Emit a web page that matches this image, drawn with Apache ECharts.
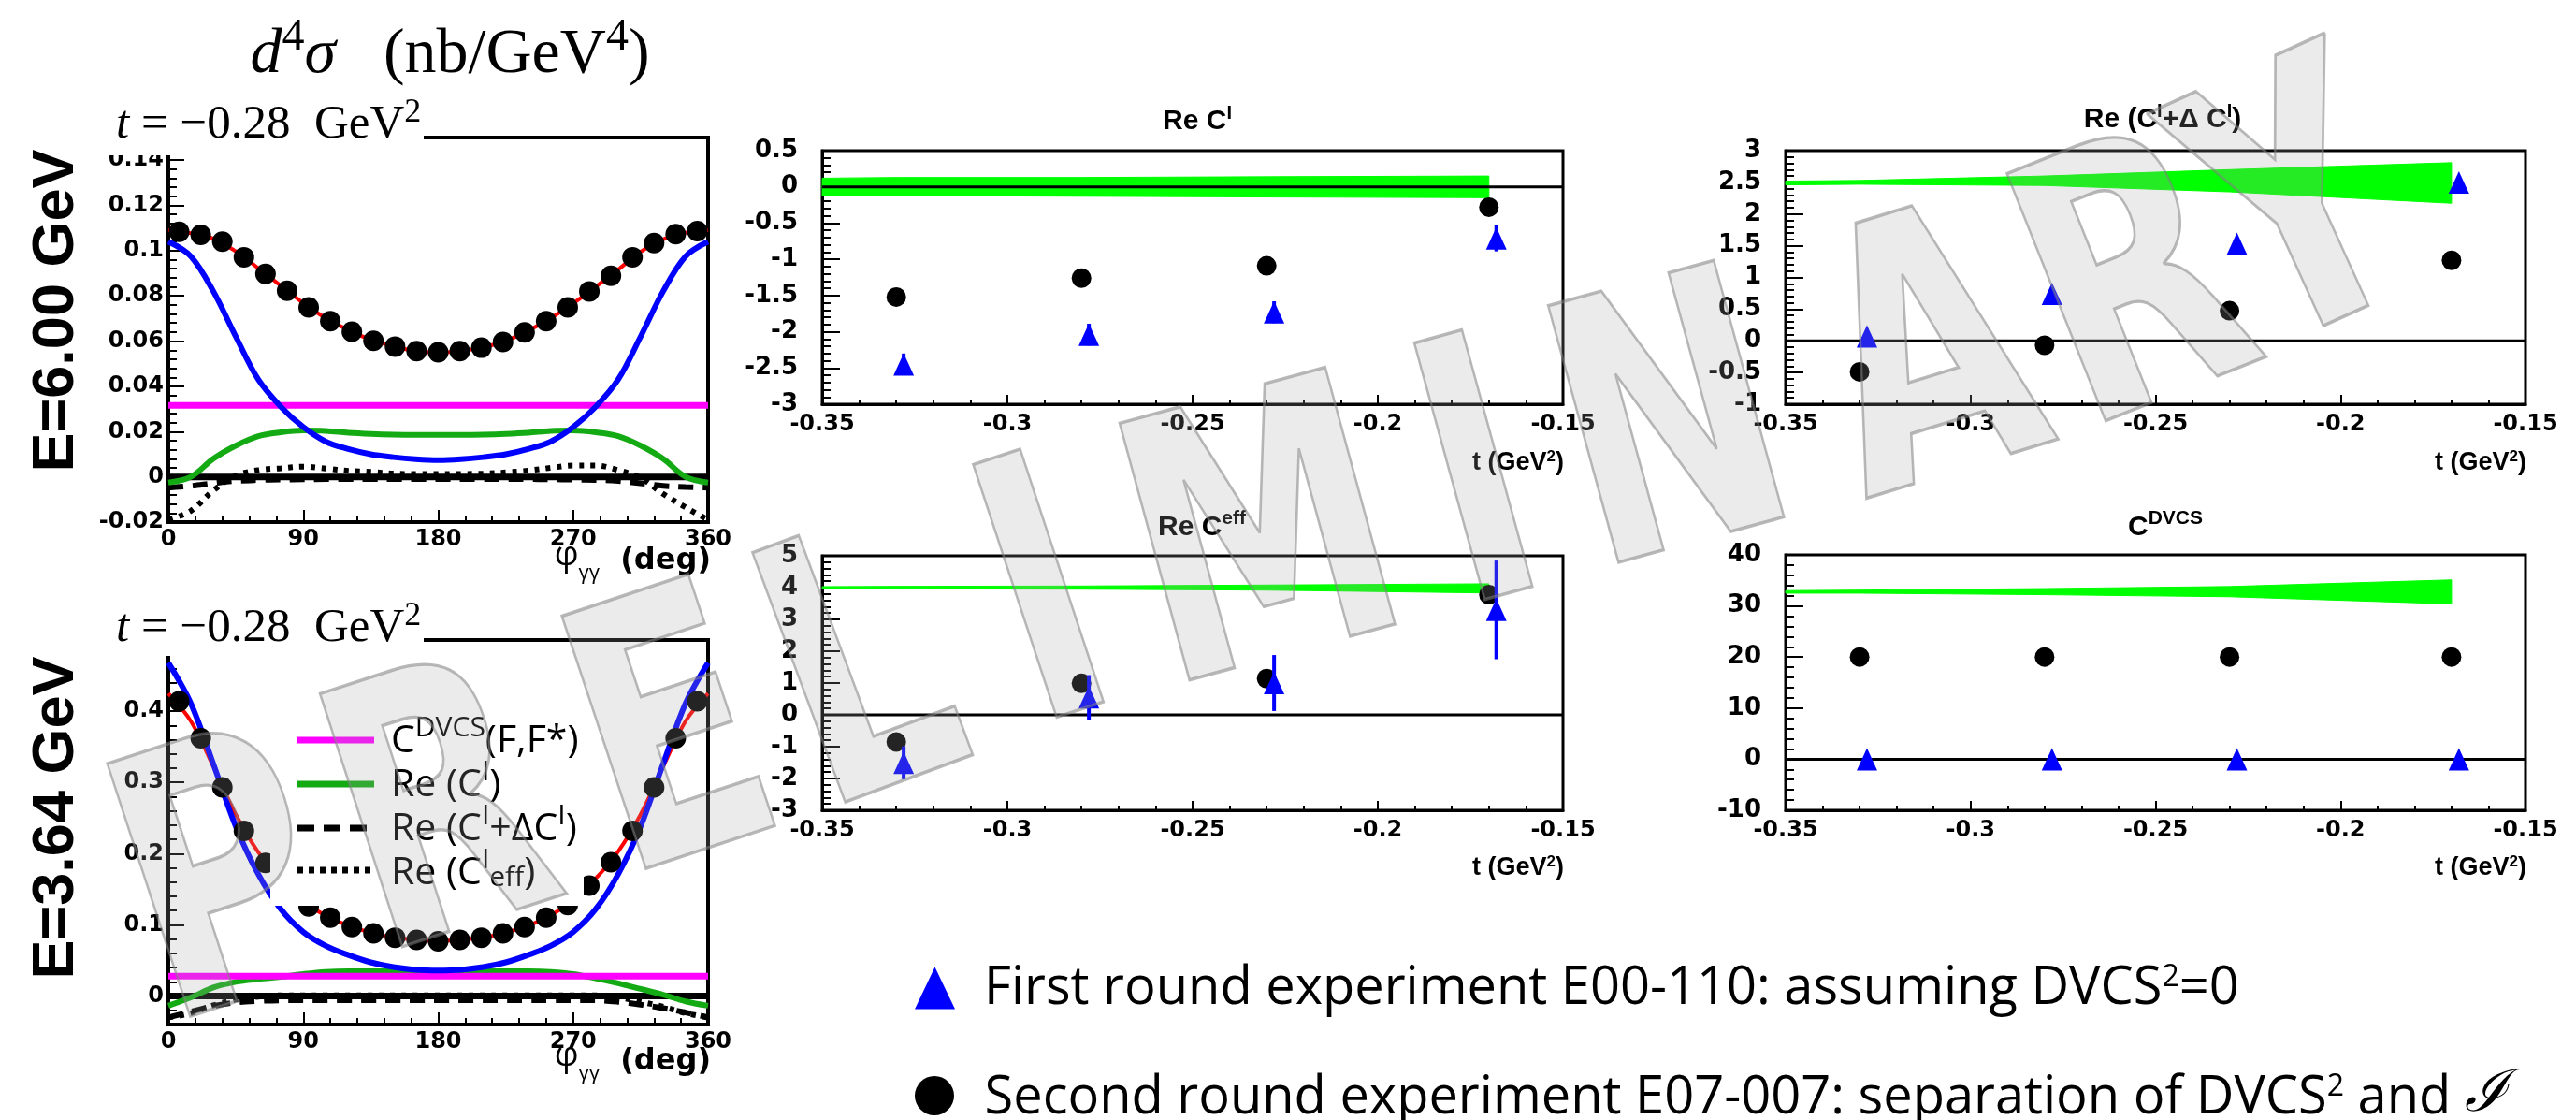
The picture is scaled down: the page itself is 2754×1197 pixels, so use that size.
<!DOCTYPE html>
<html>
<head>
<meta charset="utf-8">
<script src="https://cdn.jsdelivr.net/npm/echarts@6.0.0/dist/echarts.min.js"></script>
<style>
html,body{margin:0;padding:0;background:#fff;}
#chart{width:2754px;height:1197px;}
</style>
</head>
<body>
<div id="chart"></div>
<script>
// ================= DATA =================
// phi_gg distributions (deg)
const phiBins  = [7.2, 21.6, 36, 50.4, 64.8, 79.2, 93.6, 108, 122.4, 136.8, 151.2, 165.6, 180, 194.4, 208.8, 223.2, 237.6, 252, 266.4, 280.8, 295.2, 309.6, 324, 338.4, 352.8];
const phiCurve = [0, 15, 30, 45, 60, 75, 90, 105, 120, 135, 150, 165, 180, 195, 210, 225, 240, 255, 270, 285, 300, 315, 330, 345, 360];
const phiFlat  = [0, 360];
const phiTicks = [0, 90, 180, 270, 360];

// E = 6.00 GeV, t = -0.28 GeV^2
const e6Points = [0.1083, 0.1070, 0.1040, 0.0971, 0.0897, 0.0823, 0.0749, 0.0688, 0.0642, 0.0601, 0.0576, 0.0556, 0.0551, 0.0556, 0.0571, 0.0596, 0.0639, 0.0688, 0.0749, 0.0820, 0.0889, 0.0971, 0.1034, 0.1073, 0.1086];
const e6Fit    = [0.109, 0.1077, 0.1053, 0.0997, 0.0922, 0.0845, 0.0768, 0.0701, 0.0650, 0.0606, 0.0578, 0.0556, 0.0551, 0.0556, 0.0573, 0.0601, 0.0647, 0.0701, 0.0767, 0.0840, 0.0916, 0.0995, 0.1050, 0.1079, 0.109];
const e6Blue   = [0.104, 0.0975, 0.082, 0.062, 0.043, 0.031, 0.022, 0.0156, 0.0123, 0.0100, 0.0087, 0.0078, 0.0074, 0.0078, 0.0087, 0.0100, 0.0123, 0.0156, 0.022, 0.031, 0.043, 0.062, 0.082, 0.0975, 0.104];
const e6DVCS   = [0.0316, 0.0316];
const e6ReCI   = [-0.0025, 0.0000, 0.0080, 0.0138, 0.0180, 0.0197, 0.0205, 0.0203, 0.0195, 0.0190, 0.0187, 0.0186, 0.0186, 0.0186, 0.0187, 0.0190, 0.0195, 0.0203, 0.0205, 0.0197, 0.0180, 0.0138, 0.0080, 0.0000, -0.0025];
const e6ReCIdC = [-0.0048, -0.0040, -0.0028, -0.0018, -0.0014, -0.0012, -0.0011, -0.0010, -0.0010, -0.0010, -0.0010, -0.0010, -0.0010, -0.0010, -0.0010, -0.0010, -0.0010, -0.0011, -0.0012, -0.0014, -0.0018, -0.0028, -0.0040, -0.0045, -0.0048];
const e6ReCeff = [-0.0190, -0.0150, -0.0060, 0.0005, 0.0030, 0.0038, 0.0045, 0.0037, 0.0027, 0.0022, 0.0015, 0.0013, 0.0013, 0.0013, 0.0015, 0.0020, 0.0028, 0.0040, 0.0050, 0.0050, 0.0030, -0.0005, -0.0075, -0.0135, -0.0190];
const e6YTicks = [-0.02, 0, 0.02, 0.04, 0.06, 0.08, 0.1, 0.12, 0.14];

// E = 3.64 GeV, t = -0.28 GeV^2
const e3Points = [0.414, 0.362, 0.293, 0.232, 0.187, 0.155, 0.126, 0.110, 0.097, 0.088, 0.082, 0.079, 0.077, 0.079, 0.082, 0.088, 0.097, 0.110, 0.128, 0.155, 0.188, 0.232, 0.293, 0.362, 0.414];
const e3Fit    = [0.425, 0.386, 0.322, 0.255, 0.202, 0.164, 0.133, 0.113, 0.099, 0.089, 0.0825, 0.0791, 0.077, 0.0791, 0.0825, 0.089, 0.099, 0.113, 0.135, 0.165, 0.203, 0.255, 0.322, 0.386, 0.425];
const e3Blue   = [0.468, 0.411, 0.326, 0.238, 0.171, 0.122, 0.090, 0.0706, 0.0577, 0.0474, 0.0407, 0.037, 0.036, 0.037, 0.0407, 0.0474, 0.0577, 0.0706, 0.090, 0.122, 0.171, 0.238, 0.326, 0.411, 0.468];
const e3DVCS   = [0.028, 0.028];
const e3ReCI   = [-0.0136, -0.002, 0.012, 0.020, 0.024, 0.027, 0.031, 0.034, 0.035, 0.035, 0.035, 0.035, 0.035, 0.035, 0.035, 0.035, 0.035, 0.034, 0.031, 0.025, 0.018, 0.010, 0.002, -0.0075, -0.0136];
const e3ReCIdC = [-0.030, -0.022, -0.014, -0.009, -0.007, -0.006, -0.006, -0.006, -0.006, -0.006, -0.006, -0.006, -0.006, -0.006, -0.006, -0.006, -0.006, -0.006, -0.006, -0.006, -0.008, -0.012, -0.017, -0.023, -0.030];
const e3ReCeff = [-0.030, -0.024, -0.013, -0.005, -0.001, 0.001, 0.001, 0.001, 0.001, 0.001, 0.001, 0.001, 0.001, 0.001, 0.001, 0.001, 0.001, 0.001, 0.001, 0.001, -0.002, -0.008, -0.015, -0.024, -0.030];
const e3YTicks = [0, 0.1, 0.2, 0.3, 0.4];

// t dependence of the extracted coefficients
const tCircle   = [-0.33, -0.28, -0.23, -0.17];
const tTriangle = [-0.328, -0.278, -0.228, -0.168];
const tBand     = [-0.35, -0.33, -0.28, -0.23, -0.17];
const tFlat     = [-0.35, -0.15];
const tTicks    = [-0.35, -0.3, -0.25, -0.2, -0.15];

const reCI_circle   = [-1.52, -1.26, -1.09, -0.28];
const reCI_triangle = [-2.45, -2.04, -1.73, -0.71];
const reCI_triErr   = [0.15, 0.15, 0.15, 0.18];
const reCI_bandLo   = [-0.12, -0.12, -0.13, -0.14, -0.15];
const reCI_bandHi   = [0.12, 0.13, 0.13, 0.14, 0.15];

const reCIdC_circle   = [-0.49, -0.07, 0.475, 1.27];
const reCIdC_triangle = [0.07, 0.74, 1.53, 2.50];
const reCIdC_bandLo   = [2.46, 2.47, 2.45, 2.35, 2.17];
const reCIdC_bandHi   = [2.52, 2.53, 2.60, 2.70, 2.81];

const reCeff_circle   = [-0.85, 0.99, 1.14, 3.78];
const reCeff_triangle = [-1.51, 0.55, 1.00, 3.30];
const reCeff_triErr   = [0.52, 0.70, 0.88, 1.55];
const reCeff_bandLo   = [3.97, 3.96, 3.95, 3.92, 3.83];
const reCeff_bandHi   = [4.03, 4.04, 4.05, 4.08, 4.12];

const cDVCS_circle   = [20, 20, 20, 20];
const cDVCS_triangle = [0, 0, 0, 0];
const cDVCS_bandLo   = [32.5, 32.5, 32.2, 31.8, 30.4];
const cDVCS_bandHi   = [33.0, 33.1, 33.4, 33.8, 35.1];

const LEG1 = 'First round experiment E00-110: assuming DVCS²=0';
const LEG2 = 'Second round experiment E07-007: separation of DVCS² and I';

// watermark (decoration): letters and their centres on the page
const WM_TEXT = 'PRELIMINARY';
const WM_CENTERS = [[245, 966], [477, 890], [725, 810], [928, 740], [1123, 662], [1355, 599], [1586, 536], [1792, 479], [2068, 404], [2290, 325], [2466, 245]];

// ================= HELPERS =================
const zip = (xs, ys) => xs.map((x, i) => [x, ys[i]]);
const fmt = v => String(parseFloat(Number(v).toFixed(4)));
const TICKFONT = 'DejaVu Sans';

function xAx(gi, min, max, interval, o) {
  return {
    type: 'value', gridIndex: gi, min: min, max: max, interval: interval,
    axisLine: { show: true, onZero: false, lineStyle: { color: '#000', width: o.lw } },
    axisTick: { show: true, inside: true, length: o.tl, lineStyle: { color: '#000', width: 2 } },
    minorTick: { show: true, splitNumber: 5, length: o.ml, lineStyle: { color: '#000', width: 2 } },
    axisLabel: { show: true, margin: o.margin, fontFamily: TICKFONT, fontWeight: 'bold', fontSize: o.fs, color: '#000', formatter: fmt, hideOverlap: false },
    splitLine: { show: false }, minorSplitLine: { show: false }
  };
}
function yAx(gi, min, max, interval, o, extra) {
  const a = {
    type: 'value', gridIndex: gi, min: min, max: max, interval: interval, position: 'left',
    axisLine: { show: true, onZero: false, lineStyle: { color: '#000', width: o.lw } },
    axisTick: { show: true, inside: true, length: o.tl, lineStyle: { color: '#000', width: 2 } },
    minorTick: { show: true, splitNumber: 5, length: o.ml, lineStyle: { color: '#000', width: 2 } },
    axisLabel: { show: true, margin: o.margin, fontFamily: TICKFONT, fontWeight: 'bold', fontSize: o.fs, color: '#000', formatter: o.formatter || fmt, hideOverlap: false },
    splitLine: { show: false }, minorSplitLine: { show: false }
  };
  return Object.assign(a, extra || {});
}
function line(ai, yi, xs, ys, color, width, type, z) {
  return {
    type: 'line', xAxisIndex: ai, yAxisIndex: yi, data: zip(xs, ys), smooth: 0.35,
    symbol: 'none', showSymbol: false, silent: true, z: z, clip: true,
    lineStyle: { color: color, width: width, type: type || 'solid', cap: 'butt' }
  };
}
function scatter(ai, xs, ys, sym, size, color, z, name) {
  return {
    type: 'scatter', name: name, xAxisIndex: ai, yAxisIndex: ai, data: zip(xs, ys),
    symbol: sym, symbolSize: size, itemStyle: { color: color, opacity: 1 }, silent: true, z: z
  };
}
function band(ai, ts, lo, hi) {
  return {
    type: 'custom', xAxisIndex: ai, yAxisIndex: ai, silent: true, z: 1,
    data: ts.map((t, i) => [t, lo[i], hi[i]]),
    encode: { x: 0, y: [1, 2] },
    renderItem: function (params, api) {
      if (params.dataIndex !== 0) return null;
      const pts = [];
      for (let i = 0; i < ts.length; i++) pts.push(api.coord([ts[i], hi[i]]));
      for (let i = ts.length - 1; i >= 0; i--) pts.push(api.coord([ts[i], lo[i]]));
      return { type: 'polygon', shape: { points: pts }, style: { fill: '#00ff00', stroke: '#00ff00', lineWidth: 1 } };
    }
  };
}
function errBars(ai, xs, ys, es, color, z) {
  return {
    type: 'custom', xAxisIndex: ai, yAxisIndex: ai, silent: true, z: z,
    data: xs.map((x, i) => [x, ys[i], es[i]]),
    encode: { x: 0, y: 1 },
    renderItem: function (params, api) {
      const x = api.value(0), y = api.value(1), e = api.value(2);
      const p1 = api.coord([x, y - e]), p2 = api.coord([x, y + e]);
      return { type: 'line', shape: { x1: p1[0], y1: p1[1], x2: p2[0], y2: p2[1] }, style: { stroke: color, lineWidth: 4 } };
    }
  };
}
function zeroLine(ai, xs, width, z) {
  return line(ai, ai, xs, xs.map(() => 0), '#000', width, 'solid', z);
}

// ================= LAYOUT =================
const leftX = { lw: 4, tl: 13, ml: 7, margin: 7, fs: 24 };
const leftY = { lw: 4, tl: 17, ml: 9, margin: 5, fs: 24 };
const rightX = { lw: 3, tl: 10, ml: 5, margin: 10, fs: 24 };
const rightY = { lw: 3, tl: 19, ml: 9, margin: 26, fs: 26 };

const grids = [
  { left: 180, top: 147, width: 577, height: 411, show: true, borderColor: '#000', borderWidth: 4, backgroundColor: 'transparent' },
  { left: 180, top: 684, width: 577, height: 411, show: true, borderColor: '#000', borderWidth: 4, backgroundColor: 'transparent' },
  { left: 879, top: 161, width: 792, height: 271, show: true, borderColor: '#000', borderWidth: 3, backgroundColor: 'transparent' },
  { left: 1909, top: 161, width: 791, height: 271, show: true, borderColor: '#000', borderWidth: 3, backgroundColor: 'transparent' },
  { left: 879, top: 594, width: 792, height: 272, show: true, borderColor: '#000', borderWidth: 3, backgroundColor: 'transparent' },
  { left: 1909, top: 593, width: 791, height: 273, show: true, borderColor: '#000', borderWidth: 3, backgroundColor: 'transparent' }
].map(g => Object.assign(g, { containLabel: false, outerBoundsMode: 'none' }));

const xAxes = [
  xAx(0, phiTicks[0], phiTicks[4], 90, leftX),
  xAx(1, phiTicks[0], phiTicks[4], 90, leftX),
  xAx(2, tTicks[0], tTicks[4], 0.05, rightX),
  xAx(3, tTicks[0], tTicks[4], 0.05, rightX),
  xAx(4, tTicks[0], tTicks[4], 0.05, rightX),
  xAx(5, tTicks[0], tTicks[4], 0.05, rightX)
];
const e6fmt = v => (e6YTicks.some(t => Math.abs(t - v) < 1e-9) ? fmt(v) : '');
const e3fmt = v => (e3YTicks.some(t => Math.abs(t - v) < 1e-9) ? fmt(v) : '');
const yAxes = [
  yAx(0, -0.02, 0.15, 0.02, Object.assign({}, leftY, { formatter: e6fmt })),
  yAx(1, -0.04, 0.5, 0.02, Object.assign({}, leftY, { formatter: e3fmt }), {
    minorTick: { show: false },
    axisTick: { show: true, inside: true, length: 17, customValues: e3YTicks, lineStyle: { color: '#000', width: 2 } },
    axisLabel: { show: true, margin: 5, fontFamily: TICKFONT, fontWeight: 'bold', fontSize: 24, color: '#000', formatter: e3fmt, customValues: e3YTicks }
  }),
  yAx(2, -3, 0.5, 0.5, rightY),
  yAx(3, -1, 3, 0.5, rightY),
  yAx(4, -3, 5, 1, rightY),
  yAx(5, -10, 40, 10, rightY),
  // minor ticks (every 0.02) for the E=3.64 GeV panel
  yAx(1, -0.04, 0.5, 0.02, leftY, {
    axisLine: { show: false }, axisLabel: { show: false }, minorTick: { show: false },
    axisTick: { show: true, inside: true, length: 9, lineStyle: { color: '#000', width: 2 } }
  })
];

const GREEN = '#14aa14';
const series = [
  // ---- E = 6.00 GeV ----
  line(0, 0, phiCurve, e6Fit, '#ff0000', 4, 'solid', 2),
  zeroLine(0, phiFlat, 7, 2),
  line(0, 0, phiCurve, e6ReCIdC, '#000', 6, [16, 10], 2),
  line(0, 0, phiCurve, e6ReCeff, '#000', 6, [5, 7], 2),
  line(0, 0, phiFlat, e6DVCS, '#ff00ff', 7, 'solid', 3),
  line(0, 0, phiCurve, e6ReCI, GREEN, 6, 'solid', 3),
  line(0, 0, phiCurve, e6Blue, '#0000ff', 6, 'solid', 3),
  scatter(0, phiBins, e6Points, 'circle', 22, '#000', 4, 'e6'),
  // ---- E = 3.64 GeV ----
  line(1, 1, phiCurve, e3Fit, '#ff0000', 4, 'solid', 2),
  zeroLine(1, phiFlat, 7, 2),
  line(1, 1, phiCurve, e3ReCIdC, '#000', 6, [16, 10], 2),
  line(1, 1, phiCurve, e3ReCeff, '#000', 6, [5, 7], 2),
  line(1, 1, phiCurve, e3ReCI, GREEN, 6, 'solid', 3),
  line(1, 1, phiFlat, e3DVCS, '#ff00ff', 7, 'solid', 3),
  line(1, 1, phiCurve, e3Blue, '#0000ff', 6, 'solid', 3),
  scatter(1, phiBins, e3Points, 'circle', 22, '#000', 4, 'e3'),
  // ---- Re C^I ----
  band(2, tBand, reCI_bandLo, reCI_bandHi),
  zeroLine(2, tFlat, 3, 2),
  scatter(2, tCircle, reCI_circle, 'circle', 21, '#000', 4, LEG2),
  errBars(2, tTriangle, reCI_triangle, reCI_triErr, '#0000ff', 5),
  scatter(2, tTriangle, reCI_triangle, 'triangle', [22, 24], '#0000ff', 5, LEG1),
  // ---- Re (C^I + dC^I) ----
  band(3, tBand, reCIdC_bandLo, reCIdC_bandHi),
  zeroLine(3, tFlat, 3, 2),
  scatter(3, tCircle, reCIdC_circle, 'circle', 21, '#000', 4, LEG2),
  scatter(3, tTriangle, reCIdC_triangle, 'triangle', [22, 24], '#0000ff', 5, LEG1),
  // ---- Re C^eff ----
  band(4, tBand, reCeff_bandLo, reCeff_bandHi),
  zeroLine(4, tFlat, 3, 2),
  scatter(4, tCircle, reCeff_circle, 'circle', 21, '#000', 4, LEG2),
  errBars(4, tTriangle, reCeff_triangle, reCeff_triErr, '#0000ff', 5),
  scatter(4, tTriangle, reCeff_triangle, 'triangle', [22, 24], '#0000ff', 5, LEG1),
  // ---- C^DVCS ----
  band(5, tBand, cDVCS_bandLo, cDVCS_bandHi),
  zeroLine(5, tFlat, 3, 2),
  scatter(5, tCircle, cDVCS_circle, 'circle', 21, '#000', 4, LEG2),
  scatter(5, tTriangle, cDVCS_triangle, 'triangle', [22, 24], '#0000ff', 5, LEG1)
];

// ================= TEXT / DECORATION =================
const SERIF = '"Liberation Serif", "DejaVu Serif", serif';
const SANS = '"Open Sans", "Noto Sans", sans-serif';
const BOLD = '"Liberation Sans", Arial, sans-serif';

function serifRich(size) {
  return {
    n: { fontFamily: SERIF, fontSize: size, fill: '#000', verticalAlign: 'bottom' },
    it: { fontFamily: SERIF, fontSize: size, fontStyle: 'italic', fill: '#000', verticalAlign: 'bottom' },
    sup: { fontFamily: SERIF, fontSize: Math.round(size * 0.7), fill: '#000', verticalAlign: 'bottom', padding: [0, 0, Math.round(size * 0.42), 0] }
  };
}
function boldRich(size, supSize, lift) {
  return {
    b: { fontFamily: BOLD, fontWeight: 'bold', fontSize: size, fill: '#000', verticalAlign: 'bottom' },
    sup: { fontFamily: BOLD, fontWeight: 'bold', fontSize: supSize, fill: '#000', verticalAlign: 'bottom', padding: [0, 0, lift, 0] }
  };
}
function legRich() {
  return {
    n: { fontFamily: SANS, fontSize: 41, fill: '#000', verticalAlign: 'bottom' },
    u: { fontFamily: SANS, fontSize: 30, fill: '#000', verticalAlign: 'bottom', padding: [0, 0, 19, 0] },
    d: { fontFamily: SANS, fontSize: 30, fill: '#000', verticalAlign: 'bottom', padding: [0, 0, 0, 0] }
  };
}
function txt(x, y, text, rich, align, extra) {
  return Object.assign({
    type: 'text', x: x, y: y, z: 60, silent: true,
    style: { text: text, rich: rich, textAlign: align || 'center', textVerticalAlign: 'middle', fill: '#000' }
  }, extra || {});
}
const phiRich = {
  p: { fontFamily: SANS, fontSize: 36, fill: '#000', verticalAlign: 'bottom', padding: [0, 0, 12, 0] },
  s: { fontFamily: SANS, fontSize: 22, fill: '#000', verticalAlign: 'bottom' },
  d: { fontFamily: TICKFONT, fontWeight: 'bold', fontSize: 32, fill: '#000', verticalAlign: 'bottom', padding: [0, 0, 8, 0] }
};

const graphics = [
  // title panes hiding the top-left part of the phi frames
  { type: 'rect', shape: { x: 100, y: 98, width: 353, height: 68 }, style: { fill: '#fff' }, z: 50, silent: true },
  { type: 'rect', shape: { x: 100, y: 635, width: 353, height: 66 }, style: { fill: '#fff' }, z: 50, silent: true },
  txt(481, 55, '{it|d}{sup|4}{it|σ}{n|   (nb/GeV}{sup|4}{n|)}', serifRich(68)),
  txt(124, 131, '{it|t}{n| = −0.28  GeV}{sup|2}', serifRich(51), 'left'),
  txt(124, 669, '{it|t}{n| = −0.28  GeV}{sup|2}', serifRich(51), 'left'),
  { type: 'text', x: 61, y: 332, rotation: Math.PI / 2, z: 60, silent: true,
    style: { text: 'E=6.00 GeV', font: 'bold 63px "Liberation Sans", Arial, sans-serif', textAlign: 'center', textVerticalAlign: 'middle', fill: '#000' } },
  { type: 'text', x: 61, y: 874, rotation: Math.PI / 2, z: 60, silent: true,
    style: { text: 'E=3.64 GeV', font: 'bold 63px "Liberation Sans", Arial, sans-serif', textAlign: 'center', textVerticalAlign: 'middle', fill: '#000' } },
  // phi axis titles
  txt(760, 600, '{p|φ}{s|γγ}{d|  (deg)}', phiRich, 'right'),
  txt(760, 1135, '{p|φ}{s|γγ}{d|  (deg)}', phiRich, 'right'),
  // right panel titles
  txt(1280, 128, '{b|Re C}{sup|I}', boldRich(30, 20, 14)),
  txt(2312, 126, '{b|Re (C}{sup|I}{b|+Δ C}{sup|I}{b|)}', boldRich(30, 20, 14)),
  txt(1285, 561, '{b|Re C}{sup|eff}', boldRich(30, 21, 14)),
  txt(2315, 561, '{b|C}{sup|DVCS}', boldRich(30, 21, 14)),
  // t axis titles
  txt(1672, 494, '{b|t (GeV}{sup|2}{b|)}', boldRich(27, 17, 12), 'right'),
  txt(2701, 494, '{b|t (GeV}{sup|2}{b|)}', boldRich(27, 17, 12), 'right'),
  txt(1672, 927, '{b|t (GeV}{sup|2}{b|)}', boldRich(27, 17, 12), 'right'),
  txt(2701, 927, '{b|t (GeV}{sup|2}{b|)}', boldRich(27, 17, 12), 'right'),
  // legend of the E=3.64 GeV panel
  { type: 'rect', shape: { x: 289, y: 767, width: 335, height: 201 }, style: { fill: '#fff' }, z: 5, silent: true },
  { type: 'line', shape: { x1: 318, y1: 791, x2: 400, y2: 791 }, style: { stroke: '#ff00ff', lineWidth: 7 }, z: 6, silent: true },
  { type: 'line', shape: { x1: 318, y1: 838, x2: 400, y2: 838 }, style: { stroke: GREEN, lineWidth: 7 }, z: 6, silent: true },
  { type: 'line', shape: { x1: 318, y1: 885, x2: 400, y2: 885 }, style: { stroke: '#000', lineWidth: 7, lineDash: [18, 10] }, z: 6, silent: true },
  { type: 'line', shape: { x1: 318, y1: 930, x2: 400, y2: 930 }, style: { stroke: '#000', lineWidth: 7, lineDash: [6, 6] }, z: 6, silent: true },
  txt(418, 788, '{n|C}{u|DVCS}{n|(F,F*)}', legRich(), 'left', { z: 6 }),
  txt(418, 835, '{n|Re (C}{u|I}{n|)}', legRich(), 'left', { z: 6 }),
  txt(418, 882, '{n|Re (C}{u|I}{n|+ΔC}{u|I}{n|)}', legRich(), 'left', { z: 6 }),
  txt(418, 929, '{n|Re (C}{u|I}{d|eff}{n|)}', legRich(), 'left', { z: 6 })
];

// PRELIMINARY watermark, one letter per element
for (let i = 0; i < WM_TEXT.length; i++) {
  const a = WM_CENTERS[Math.max(0, i - 1)], b = WM_CENTERS[Math.min(WM_CENTERS.length - 1, i + 1)];
  const ang = Math.atan2(a[1] - b[1], b[0] - a[0]);
  graphics.push({
    type: 'text', x: WM_CENTERS[i][0], y: WM_CENTERS[i][1], rotation: ang, scaleX: 0.72, z: 100, silent: true,
    style: { text: WM_TEXT[i], font: 'bold 390px "DejaVu Sans", sans-serif', textAlign: 'center', textVerticalAlign: 'middle',
      fill: 'rgba(165,165,165,0.22)', stroke: 'rgba(125,125,125,0.55)', lineWidth: 3.5, lineJoin: 'round', strokeNoScale: true }
  });
}

const legendText = {
  color: '#000',
  rich: {
    sp: { width: 26, fontSize: 56 },
    n: { fontFamily: SANS, fontSize: 56, color: '#000', verticalAlign: 'bottom', lineHeight: 58 },
    s: { fontFamily: SANS, fontSize: 32, color: '#000', verticalAlign: 'bottom', padding: [0, 0, 24, 0] },
    c: { fontFamily: '"DejaVu Serif", serif', fontStyle: 'italic', fontSize: 62, color: '#000', verticalAlign: 'bottom' }
  }
};

const option = {
  animation: false,
  backgroundColor: '#fff',
  grid: grids,
  xAxis: xAxes,
  yAxis: yAxes,
  series: series,
  graphic: { elements: graphics },
  legend: [
    {
      show: true, orient: 'horizontal', left: 973, top: 1023, itemWidth: 43, itemHeight: 45, selectedMode: false,
      data: [{ name: LEG1, icon: 'triangle', itemStyle: { color: '#0000ff' } }],
      formatter: () => '{sp| }{n|First round experiment E00-110: assuming DVCS}{s|2}{n|=0}',
      textStyle: legendText
    },
    {
      show: true, orient: 'horizontal', left: 973, top: 1135, itemWidth: 45, itemHeight: 42, selectedMode: false,
      data: [{ name: LEG2, icon: 'circle', itemStyle: { color: '#000' } }],
      formatter: () => '{sp| }{n|Second round experiment E07-007: separation of DVCS}{s|2}{n| and }{c|ℐ}',
      textStyle: legendText
    }
  ]
};

const chart = echarts.init(document.getElementById('chart'), null, { renderer: 'canvas', width: 2754, height: 1197 });
chart.setOption(option);
</script>
</body>
</html>
